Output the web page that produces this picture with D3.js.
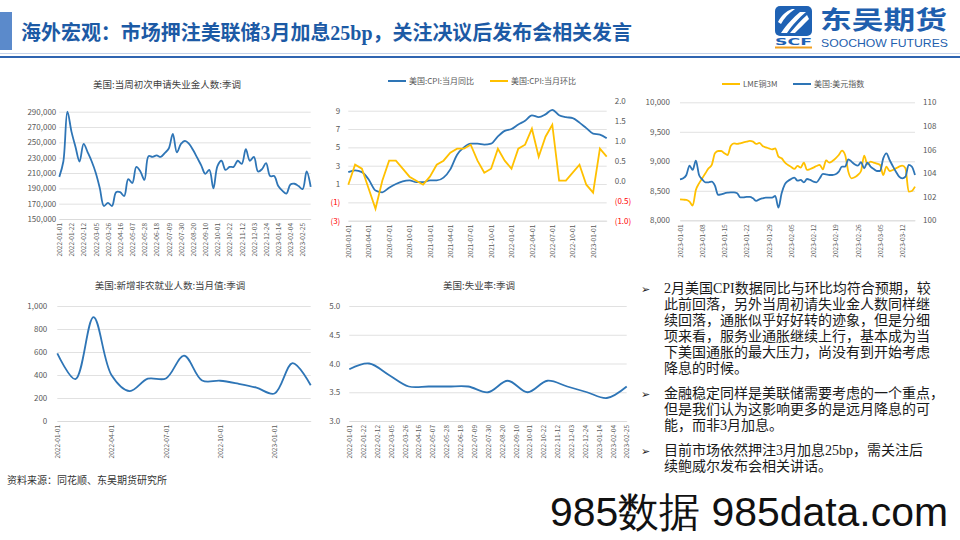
<!DOCTYPE html>
<html><head><meta charset="utf-8">
<script src="https://cdn.jsdelivr.net/npm/d3@7"></script>
<style>body{margin:0;background:#fff}svg{display:block}</style>
</head><body>
<svg id="c" width="960" height="540"></svg>
<script>
// ---------------- DATA ----------------
const slideTitle = "海外宏观：市场押注美联储3月加息25bp，关注决议后发布会相关发言";
const sourceNote = "资料来源：同花顺、东吴期货研究所";

// Chart 1: weekly initial jobless claims (SA)
const claimsTitle = "美国:当周初次申请失业金人数:季调";
const claimsValues = [205000,225000,290000,264000,244000,225000,248000,237000,225000,210000,
  190000,167000,171000,167000,185000,185000,180000,202000,197000,218000,
  212000,201000,232000,231000,233000,231000,236000,242000,261000,237000,
  248000,252000,248000,240000,230000,220000,209000,214000,190000,219000,
  226000,214000,218000,218000,226000,222000,241000,226000,231000,212000,
  215000,223000,206000,206000,193000,187000,183000,195000,196000,193000,
  189000,212000,192000];
const claimsTicks = ["2022-01-01","2022-01-22","2022-02-12","2022-03-05","2022-03-26","2022-04-16","2022-05-07",
  "2022-05-28","2022-06-18","2022-07-09","2022-07-30","2022-08-20","2022-09-10","2022-10-01","2022-10-22",
  "2022-11-12","2022-12-03","2022-12-24","2023-01-14","2023-02-04","2023-02-25"];
const claimsYTicks = [150000,170000,190000,210000,230000,250000,270000,290000];

// Chart 2: CPI YoY (left) and MoM (right)
const cpiSeriesNames = ["美国:CPI:当月同比","美国:CPI:当月环比"];
const cpiYoY = [2.3,2.5,2.3,1.5,0.3,0.1,0.6,1.0,1.3,1.4,1.2,1.2,1.4,1.4,1.7,2.6,4.2,5.0,5.4,5.4,
  5.3,5.4,6.2,6.8,7.0,7.5,7.9,8.5,8.3,8.6,9.1,8.5,8.3,8.2,7.7,7.1,6.5,6.4,6.0];
const cpiMoM = [-0.1,0.4,0.3,-0.2,-0.7,0.0,0.5,0.5,0.3,0.1,0.0,-0.1,0.1,0.4,0.5,0.7,0.8,0.8,0.9,0.5,
  0.2,0.3,0.8,0.5,0.3,0.8,0.9,1.3,0.6,1.1,1.4,0.0,0.0,0.2,0.4,-0.1,-0.3,0.8,0.6];
const cpiTicks = ["2020-01-01","2020-04-01","2020-07-01","2020-10-01","2021-01-01","2021-04-01","2021-07-01",
  "2021-10-01","2022-01-01","2022-04-01","2022-07-01","2022-10-01","2023-01-01"];
const cpiLeftTicks = [-3,-1,1,3,5,7,9];
const cpiRightTicks = [-1.0,-0.5,0.0,0.5,1.0,1.5,2.0];

// Chart 3: LME copper 3M (left) and US dollar index (right), daily 2023-01-01..2023-03-16
const fxSeriesNames = ["LME铜3M","美国:美元指数"];
const fxStart = "2023-01-01", fxEnd = "2023-03-16";
const copper = [8356,8350,8345,8316,8250,8514,8627,8712,8797,8881,
  8938,9135,9175,9175,9135,9107,9265,9305,9294,9305,
  9322,9333,9345,9333,9294,9311,9260,9237,9220,9203,
  9220,9079,9051,8983,8938,8904,8870,8921,8893,8977,
  8853,8870,8893,8921,8938,8864,9017,8977,9005,9051,
  9107,9180,9107,8825,8712,8729,8768,8836,9096,8950,
  8994,8977,8960,8938,8768,8910,8836,8853,8881,8910,
  8927,8881,8486,8497,8570];
const dollarIdx = [103.47,103.56,103.84,104.63,104.27,105.06,103.84,103.47,103.22,103.22,
  103.28,102.94,102.15,102.2,102.29,102.34,102.37,102.37,102.29,101.95,
  101.95,101.98,101.98,101.86,101.64,101.78,101.86,101.92,101.92,101.92,
  102.06,101.07,102.29,103.05,103.33,103.5,103.62,103.36,103.42,103.22,
  103.5,103.42,103.28,103.22,103.56,103.93,103.9,103.84,103.84,103.9,
  104.12,104.55,104.55,105.17,104.97,104.75,104.63,104.92,104.41,104.89,
  104.55,104.35,104.18,104.18,105.25,105.68,105.11,104.6,104.12,103.7,
  103.56,103.7,104.69,104.55,103.84];
const fxTicks = ["2023-01-01","2023-01-08","2023-01-15","2023-01-22","2023-01-29","2023-02-05",
  "2023-02-12","2023-02-19","2023-02-26","2023-03-05","2023-03-12"];
const copperTicks = [8000,8500,9000,9500,10000];
const dollarTicks = [100,102,104,106,108,110];

// Chart 4: nonfarm payrolls (thousands)
const nfpTitle = "美国:新增非农就业人数:当月值:季调";
const nfpMonths = ["2022-01-01","2022-02-01","2022-03-01","2022-04-01","2022-05-01","2022-06-01","2022-07-01",
  "2022-08-01","2022-09-01","2022-10-01","2022-11-01","2022-12-01","2023-01-01","2023-02-01","2023-03-01"];
const nfpValues = [588,364,904,398,260,368,370,568,352,350,324,290,239,504,311];
const nfpTicks = ["2022-01-01","2022-04-01","2022-07-01","2022-10-01","2023-01-01"];
const nfpYTicks = [0,200,400,600,800,1000];

// Chart 5: unemployment rate
const urTitle = "美国:失业率:季调";
const urMonths = ["2021-12","2022-01","2022-02","2022-03","2022-04","2022-05","2022-06","2022-07",
  "2022-08","2022-09","2022-10","2022-11","2022-12","2023-01","2023-02"];
const urValues = [3.9,4.0,3.8,3.6,3.6,3.6,3.6,3.5,3.7,3.5,3.7,3.6,3.5,3.4,3.6];
const urTicks = claimsTicks;
const urYTicks = [3.0,3.5,4.0,4.5,5.0];

// Commentary
const bullets = [
  ["2月美国CPI数据同比与环比均符合预期，较","此前回落，另外当周初请失业金人数同样继","续回落，通胀似乎好好转的迹象，但是分细",
   "项来看，服务业通胀继续上行，基本成为当","下美国通胀的最大压力，尚没有到开始考虑","降息的时候。"],
  ["金融稳定同样是美联储需要考虑的一个重点，","但是我们认为这影响更多的是远月降息的可","能，而非3月加息。"],
  ["目前市场依然押注3月加息25bp，需关注后","续鲍威尔发布会相关讲话。"]
];

// ---------------- STYLE ----------------
const FONT = "'Noto Sans CJK SC','Noto Sans',sans-serif";
const BLUE = "#2E75B6", GOLD = "#FFC000", GRID = "#D9D9D9", TICK = "#595959", RED = "#FF0000";
const svg = d3.select("#c");
const parse = d3.timeParse("%Y-%m-%d");

// ---------------- HEADER ----------------
svg.append("rect").attr("x",0).attr("y",12).attr("width",12).attr("height",38).attr("fill","#5B8ACB");
svg.append("text").attr("x",21).attr("y",40).text(slideTitle)
  .attr("font-family","'Liberation Serif','Noto Sans CJK SC',serif").attr("font-weight","bold")
  .attr("font-size",20).attr("fill","#1C5AA5").attr("textLength",611).attr("lengthAdjust","spacingAndGlyphs");
svg.append("line").attr("x1",0).attr("x2",960).attr("y1",53.5).attr("y2",53.5).attr("stroke","#C5D3EA").attr("stroke-width",1);
svg.append("line").attr("x1",0).attr("x2",960).attr("y1",57).attr("y2",57).attr("stroke","#2E64B0").attr("stroke-width",2);

// logo
const logo = svg.append("g");
logo.append("rect").attr("x",775).attr("y",6).attr("width",37).attr("height",30).attr("rx",5).attr("fill","#1F62B4");
logo.append("path").attr("d","M781,33 C787,24 793,18 800,12 L806,12 C799,18 793,24 787,33 Z").attr("fill","#fff");
logo.append("path").attr("d","M790,33 C796,26 801,20 807,15 L809,19 C804,24 799,29 795,33 Z").attr("fill","#fff");
logo.append("path").attr("d","M778,22 C781,16 786,11 792,9 L795,9 C789,13 784,18 781,24 Z").attr("fill","#fff");
logo.append("text").attr("x",775).attr("y",45).text("SCF").attr("font-family","'DejaVu Sans',sans-serif")
  .attr("font-weight","bold").attr("font-size",9).attr("fill","#1F62B4").attr("textLength",37).attr("lengthAdjust","spacingAndGlyphs");
logo.append("rect").attr("x",775).attr("y",46.5).attr("width",37).attr("height",2).attr("fill","#F0A020");
logo.append("text").attr("x",820).attr("y",29).text("东吴期货").attr("font-family",FONT).attr("font-weight","bold")
  .attr("font-size",25).attr("fill","#1F5FAE").attr("textLength",127).attr("lengthAdjust","spacingAndGlyphs");
logo.append("text").attr("x",821).attr("y",47).text("SOOCHOW FUTURES").attr("font-family","'Liberation Sans',Arial,sans-serif")
  .attr("font-size",10.5).attr("fill","#1F5FAE").attr("textLength",127).attr("lengthAdjust","spacingAndGlyphs");

// ---------------- HELPERS ----------------
function title(txt, cx, cy){
  svg.append("text").attr("x",cx).attr("y",cy).attr("dy","0.35em").attr("text-anchor","middle")
    .attr("font-family",FONT).attr("font-size",9.5).attr("fill","#404040").text(txt);
}
function gridAxis(y, ticks, fmt, x0, x1, pad, colorFn){
  const g = svg.append("g").attr("transform",`translate(${x0},0)`)
    .call(d3.axisLeft(y).tickValues(ticks).tickSize(-(x1-x0)).tickPadding(pad).tickFormat(fmt));
  g.select(".domain").remove();
  g.selectAll(".tick line").attr("stroke",GRID).attr("stroke-width",0.8);
  g.selectAll(".tick text").attr("font-family",FONT).attr("font-size",8).attr("fill",colorFn||TICK);
  return g;
}
function plainAxis(y, ticks, fmt, x, pad, side, colorFn){
  const ax = side==="right" ? d3.axisRight(y) : d3.axisLeft(y);
  const g = svg.append("g").attr("transform",`translate(${x},0)`)
    .call(ax.tickValues(ticks).tickSize(0).tickPadding(pad).tickFormat(fmt));
  g.select(".domain").remove();
  g.selectAll(".tick text").attr("font-family",FONT).attr("font-size",8).attr("fill",colorFn||TICK);
  return g;
}
function xAxis(x, ticks, fmt, y0){
  const g = svg.append("g").attr("transform",`translate(0,${y0})`)
    .call(d3.axisBottom(x).tickValues(ticks).tickSize(0).tickFormat(fmt));
  g.select(".domain").attr("stroke",GRID).attr("stroke-width",0.8);
  g.selectAll(".tick text").attr("transform","rotate(-90)").attr("x",-4).attr("y",0).attr("dy","0.35em")
    .attr("text-anchor","end").attr("font-family",FONT).attr("font-size",6.5).attr("fill",TICK);
  return g;
}
function legend(items, y){
  items.forEach(it=>{
    svg.append("line").attr("x1",it.x).attr("x2",it.x+18).attr("y1",y).attr("y2",y).attr("stroke",it.c).attr("stroke-width",2);
    svg.append("text").attr("x",it.x+21).attr("y",y).attr("dy","0.35em").attr("font-family",FONT)
      .attr("font-size",8).attr("fill",TICK).text(it.t);
  });
}
const negFmt = d => d<0 ? `(${Math.abs(d)})` : `${d}`;
const negFmt1 = d => d<0 ? `(${d3.format(".1f")(Math.abs(d))})` : d3.format(".1f")(d);
const negColor = d => d<0 ? RED : TICK;

// ---------------- CHART 1 ----------------
{
  const x0=59.3, x1=310.7, yT=111.7, yB=219;
  const dates = claimsValues.map((v,i)=>d3.timeFormat("%Y-%m-%d")(d3.timeDay.offset(parse("2022-01-01"),7*i)));
  const x = d3.scalePoint().domain(dates).range([x0,x1]);
  const y = d3.scaleLinear().domain([150000,290000]).range([yB,yT]);
  title(claimsTitle,167,85);
  gridAxis(y, claimsYTicks, d3.format(","), x0, x1, 3);
  xAxis(x, claimsTicks, d=>d, yB);
  svg.append("path").datum(claimsValues).attr("fill","none").attr("stroke",BLUE).attr("stroke-width",1.8)
    .attr("d", d3.line().x((d,i)=>x(dates[i])).y(d=>y(d)).curve(d3.curveCatmullRom.alpha(0.5)));
}

// ---------------- CHART 2 ----------------
{
  const x0=348.3, x1=606.7, yT=100.7, yB=220.7;
  const months = cpiYoY.map((v,i)=>d3.timeFormat("%Y-%m-%d")(d3.timeMonth.offset(parse("2020-01-01"),i)));
  const x = d3.scalePoint().domain(months).range([x0,x1]);
  const yL = d3.scaleLinear().domain([-3,10.09]).range([yB,yT]);
  const yR = d3.scaleLinear().domain([-1,2]).range([yB,yT]);
  legend([{x:388,c:BLUE,t:cpiSeriesNames[0]},{x:490,c:GOLD,t:cpiSeriesNames[1]}],81);
  gridAxis(yL, cpiLeftTicks, negFmt, x0, x1, 8, negColor);
  plainAxis(yR, cpiRightTicks, negFmt1, x1, 8, "right", negColor);
  xAxis(x, cpiTicks, d=>d, yB);
  svg.append("path").datum(cpiYoY).attr("fill","none").attr("stroke",BLUE).attr("stroke-width",1.8)
    .attr("d", d3.line().x((d,i)=>x(months[i])).y(d=>yL(d)).curve(d3.curveMonotoneX));
  svg.append("path").datum(cpiMoM).attr("fill","none").attr("stroke",GOLD).attr("stroke-width",1.8)
    .attr("d", d3.line().x((d,i)=>x(months[i])).y(d=>yR(d)));
}

// ---------------- CHART 3 ----------------
{
  const x0=680, x1=915, yT=102.3, yB=220.3;
  const days = d3.timeDay.range(parse(fxStart), d3.timeDay.offset(parse(fxEnd),1));
  const x = d3.scaleTime().domain([parse(fxStart), parse(fxEnd)]).range([x0,x1]);
  const yL = d3.scaleLinear().domain([8000,10000]).range([yB,yT]);
  const yR = d3.scaleLinear().domain([100,110]).range([yB,yT]);
  legend([{x:722,c:GOLD,t:fxSeriesNames[0]},{x:793,c:BLUE,t:fxSeriesNames[1]}],84);
  gridAxis(yL, copperTicks, d3.format(","), x0, x1, 10);
  plainAxis(yR, dollarTicks, d3.format("d"), x1, 8, "right");
  xAxis(x, fxTicks.map(parse), d3.timeFormat("%Y-%m-%d"), yB);
  svg.append("path").datum(copper).attr("fill","none").attr("stroke",GOLD).attr("stroke-width",1.8)
    .attr("d", d3.line().x((d,i)=>x(days[i])).y(d=>yL(d)).curve(d3.curveMonotoneX));
  svg.append("path").datum(dollarIdx).attr("fill","none").attr("stroke",BLUE).attr("stroke-width",1.8)
    .attr("d", d3.line().x((d,i)=>x(days[i])).y(d=>yR(d)).curve(d3.curveMonotoneX));
}

// ---------------- CHART 4 ----------------
{
  const x0=57.3, x1=310.7, yT=306, yB=421;
  const x = d3.scalePoint().domain(nfpMonths).range([x0,x1]);
  const y = d3.scaleLinear().domain([0,1000]).range([yB,yT]);
  title(nfpTitle,170,286);
  gridAxis(y, nfpYTicks, d3.format(","), x0, x1, 10);
  xAxis(x, nfpTicks, d=>d, yB);
  svg.append("path").datum(nfpValues).attr("fill","none").attr("stroke",BLUE).attr("stroke-width",1.8)
    .attr("d", d3.line().x((d,i)=>x(nfpMonths[i])).y(d=>y(d)).curve(d3.curveCatmullRom.alpha(0.5)));
}

// ---------------- CHART 5 ----------------
{
  const x0=349.3, x1=626.7, yT=306, yB=421;
  const x = d3.scalePoint().domain(urMonths).range([x0,x1]);
  const xt = d3.scalePoint().domain(urTicks).range([x0,x1]);
  const y = d3.scaleLinear().domain([3,5]).range([yB,yT]);
  title(urTitle,479,286);
  gridAxis(y, urYTicks, d3.format(".1f"), x0, x1, 9);
  xAxis(xt, urTicks, d=>d, yB);
  svg.append("path").datum(urValues).attr("fill","none").attr("stroke",BLUE).attr("stroke-width",1.8)
    .attr("d", d3.line().x((d,i)=>x(urMonths[i])).y(d=>y(d)).curve(d3.curveCatmullRom.alpha(0.5)));
}

// ---------------- COMMENTARY ----------------
{
  const paraTop = [293, 398, 455];
  bullets.forEach((lines,p)=>{
    svg.append("text").attr("x",641).attr("y",paraTop[p]).attr("font-family","'DejaVu Sans',sans-serif")
      .attr("font-size",11).attr("fill","#222").text("➢");
    lines.forEach((ln,j)=>{
      svg.append("text").attr("x",664).attr("y",paraTop[p]+j*15.9)
        .attr("font-family","'Liberation Serif','Noto Sans CJK SC',serif").attr("font-size",14)
        .attr("fill","#1a1a1a").text(ln);
    });
  });
}

// ---------------- FOOTER ----------------
svg.append("text").attr("x",7).attr("y",484).attr("font-family",FONT).attr("font-size",10).attr("fill","#333").text(sourceNote);
svg.append("text").attr("x",550).attr("y",526).attr("font-family","'Liberation Sans',Arial,sans-serif")
  .attr("font-size",41).attr("fill","#111").attr("textLength",398).attr("lengthAdjust","spacingAndGlyphs").text("985数据 985data.com");
</script>
</body></html>
